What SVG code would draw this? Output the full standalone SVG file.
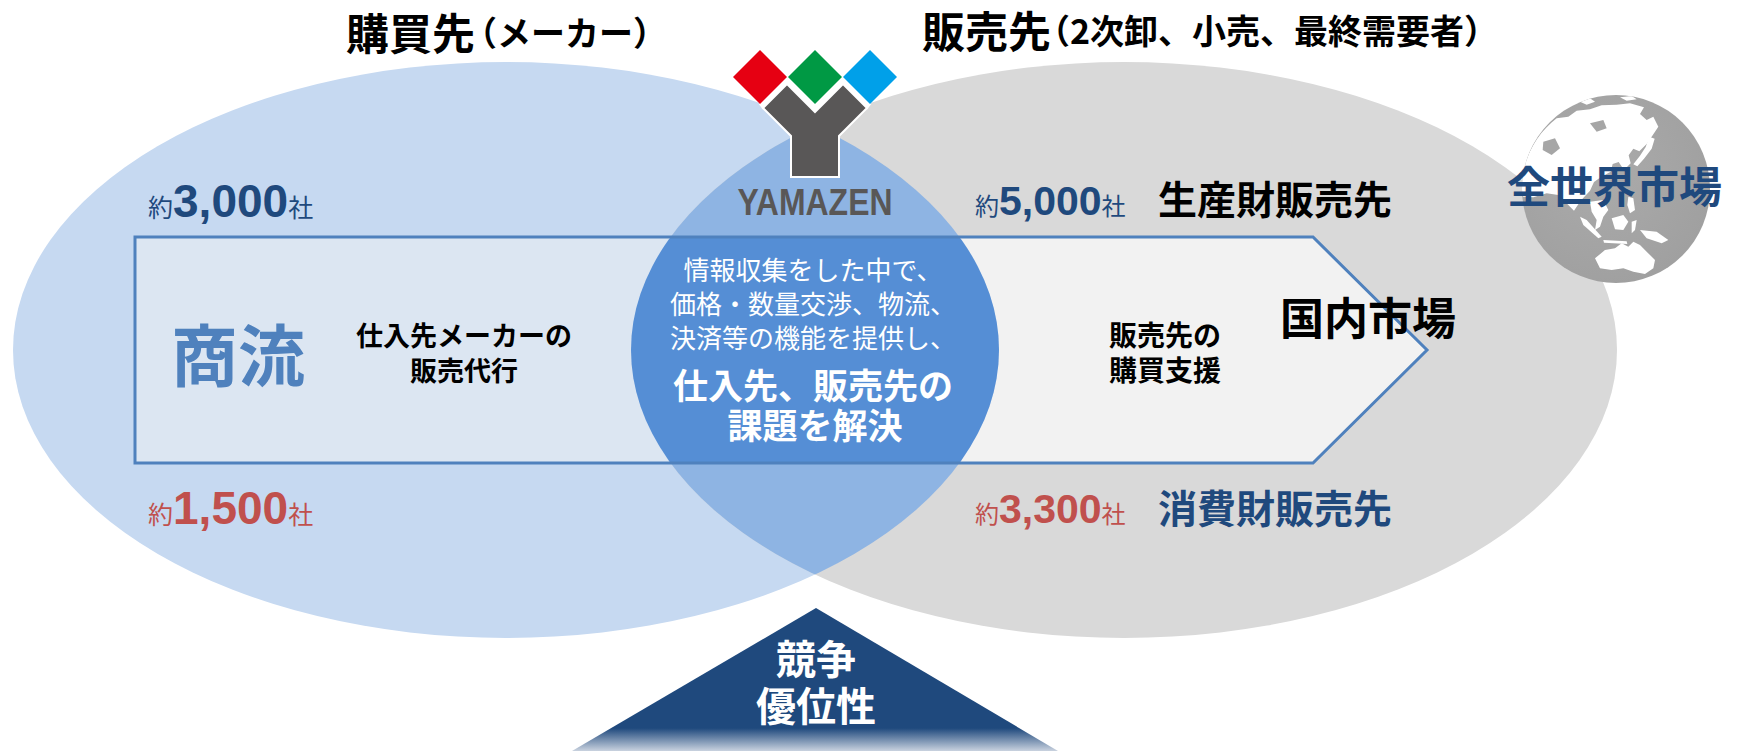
<svg xmlns="http://www.w3.org/2000/svg" width="1738" height="751" viewBox="0 0 1738 751">
  <defs>
    <style>
      .jp { font-family: "Noto Sans CJK JP", "Liberation Sans", sans-serif; }
      .lat { font-family: "Liberation Sans", "Noto Sans CJK JP", sans-serif; font-weight: bold; }
      .b { font-weight: bold; }
      .navy { fill: #1F497D; }
      .red { fill: #C0504D; }
      .ink { fill: #000000; }
      .white { fill: #FFFFFF; }
      .mid { text-anchor: middle; }
      .land { fill: #FFFFFF; }
    </style>
    <clipPath id="clipLeft"><ellipse cx="506" cy="350" rx="493" ry="288"/></clipPath>
    <clipPath id="clipBand"><path d="M135,237H1313L1427,350L1313,463H135Z"/></clipPath>
    <clipPath id="clipGlobe"><circle cx="1616" cy="189" r="94"/></clipPath>
    <linearGradient id="triFade" x1="0" y1="0" x2="0" y2="1">
      <stop offset="0" stop-color="#1F497D"/>
      <stop offset="0.84" stop-color="#1F497D"/>
      <stop offset="1" stop-color="#C9D2DF"/>
    </linearGradient>
    <radialGradient id="globeShade" cx="0.42" cy="0.4" r="0.62">
      <stop offset="0" stop-color="#ABABAB"/>
      <stop offset="1" stop-color="#A0A0A0"/>
    </radialGradient>
  </defs>

  <rect width="1738" height="751" fill="#FFFFFF"/>

  <!-- supplier side -->
  <g id="suppliers">
    <ellipse cx="506" cy="350" rx="493" ry="288" fill="#C6D9F1"/>
  </g>

  <!-- customer side -->
  <g id="customers">
    <ellipse cx="1124" cy="350" rx="493" ry="288" fill="#D9D9D9"/>
  </g>

  <!-- overlap of both sides -->
  <g id="overlap">
    <ellipse cx="1124" cy="350" rx="493" ry="288" fill="#8EB4E3" clip-path="url(#clipLeft)"/>
  </g>

  <!-- commercial flow arrow -->
  <g id="connectors">
    <path d="M135,237H1313L1427,350L1313,463H135Z" fill="#F2F2F2"/>
    <g clip-path="url(#clipBand)">
      <ellipse cx="506" cy="350" rx="493" ry="288" fill="#DCE6F2"/>
      <ellipse cx="1124" cy="350" rx="493" ry="288" fill="#558ED5" clip-path="url(#clipLeft)"/>
    </g>
    <path d="M135,237H1313L1427,350L1313,463H135Z" fill="none" stroke="#4F81BD" stroke-width="3"/>
  </g>

  <!-- headings -->
  <g id="heading-suppliers">
    <text class="jp b ink" x="346" y="50" font-size="43">購買先</text>
    <text class="jp b ink" x="463" y="46" font-size="34">（メーカー）</text>
  </g>
  <g id="heading-customers">
    <text class="jp b ink" x="922" y="48" font-size="43">販売先</text>
    <text class="jp b ink" x="1036" y="44" font-size="34">（2次卸、小売、最終需要者）</text>
  </g>

  <!-- supplier counts -->
  <g id="count-makers-industrial">
    <text x="148" y="217" class="navy"><tspan class="jp" font-size="25">約</tspan><tspan class="lat" font-size="46">3,000</tspan><tspan class="jp" font-size="25">社</tspan></text>
  </g>
  <g id="count-makers-consumer">
    <text x="148" y="524" class="red"><tspan class="jp" font-size="25">約</tspan><tspan class="lat" font-size="46">1,500</tspan><tspan class="jp" font-size="25">社</tspan></text>
  </g>

  <!-- customer counts -->
  <g id="count-industrial">
    <text x="975" y="215" class="navy"><tspan class="jp" font-size="24">約</tspan><tspan class="lat" font-size="41">5,000</tspan><tspan class="jp" font-size="24">社</tspan></text>
    <text class="jp b ink" x="1158" y="214" font-size="39">生産財販売先</text>
  </g>
  <g id="count-consumer">
    <text x="975" y="523" class="red"><tspan class="jp" font-size="24">約</tspan><tspan class="lat" font-size="41">3,300</tspan><tspan class="jp" font-size="24">社</tspan></text>
    <text class="jp b navy" x="1158" y="523" font-size="39">消費財販売先</text>
  </g>

  <!-- flow labels -->
  <g id="label-flow">
    <text class="jp b" x="171" y="381" font-size="67" fill="#4F81BD">商流</text>
  </g>
  <g id="label-sales-agent">
    <text class="jp b ink mid" x="464" y="346" font-size="27">仕入先メーカーの</text>
    <text class="jp b ink mid" x="464" y="381" font-size="27">販売代行</text>
  </g>
  <g id="label-purchase-support">
    <text class="jp b ink mid" x="1165" y="346" font-size="28">販売先の</text>
    <text class="jp b ink mid" x="1165" y="381" font-size="28">購買支援</text>
  </g>
  <g id="label-domestic">
    <text class="jp b ink" x="1280" y="335" font-size="44">国内市場</text>
  </g>

  <!-- core message -->
  <g id="core">
    <text class="jp white mid" x="813" y="280" font-size="26">情報収集をした中で、</text>
    <text class="jp white mid" x="813" y="314" font-size="26">価格・数量交渉、物流、</text>
    <text class="jp white mid" x="813" y="348" font-size="26">決済等の機能を提供し、</text>
    <text class="jp b white mid" x="813" y="399" font-size="35">仕入先、販売先の</text>
    <text class="jp b white mid" x="815" y="439" font-size="35">課題を解決</text>
  </g>

  <!-- company mark -->
  <g id="logo">
    <path d="M760,104L787.5,77L815,104L842.5,77L870,104L867,108L843,84L815,112L787,84L763,108Z" fill="#FFFFFF" stroke="#FFFFFF" stroke-width="2"/>
    <path d="M760,50L787,77L760,104L733,77Z" fill="#E60012"/>
    <path d="M815,50L842,77L815,104L788,77Z" fill="#009944"/>
    <path d="M870,50L897,77L870,104L843,77Z" fill="#00A0E9"/>
    <path d="M763,108L787,84L815,112L843,84L867,108L839,136V177H791V136Z" fill="#595757" stroke="#FFFFFF" stroke-width="2" stroke-linejoin="miter"/>
    <text class="lat mid" x="815" y="215" font-size="37" fill="#595757" textLength="155" lengthAdjust="spacingAndGlyphs">YAMAZEN</text>
  </g>

  <!-- world market -->
  <g id="globe">
    <circle cx="1616" cy="189" r="94" fill="url(#globeShade)"/>
    <g clip-path="url(#clipGlobe)">
      <g transform="translate(1480,70) scale(0.33333)">
        <!-- Eurasia -->
        <path class="land" d="M120,360C125,270 170,190 230,145L265,140L290,122L330,118L365,106L410,104L450,100L492,112L480,132L500,150L520,140L535,170L518,196L500,222L478,244L460,236L446,256L452,280L432,300L416,276L398,282L392,305L362,322L342,336L330,362L302,392L282,422L262,402L240,376L200,370L160,382L130,380Z"/>
        <path d="M190,215L225,205L240,235L215,255L188,240Z" fill="#A6A6A6"/>
        <path d="M330,160L370,150L380,175L350,185Z" fill="#A6A6A6"/>
        <!-- Japan -->
        <path class="land" d="M508,200L524,206L515,236L492,266L472,289L460,283L480,257L497,231Z"/>
        <!-- South-east Asia and islands -->
        <path class="land" d="M330,395L370,390L385,420L370,440L360,470L345,480L350,450L335,425Z"/>
        <path class="land" d="M300,440L320,450L365,500L355,505L310,465Z"/>
        <path class="land" d="M395,445L430,435L445,455L430,480L405,478Z"/>
        <path class="land" d="M370,510L440,514L442,522L372,518Z"/>
        <path class="land" d="M455,455L470,450L465,480L455,490Z"/>
        <path class="land" d="M480,480L530,485L565,510L545,520L500,505Z"/>
        <path class="land" d="M445,380L460,385L465,420L450,430L442,405Z"/>
        <!-- Australia -->
        <path class="land" d="M345,565L375,540L405,535L425,520L445,530L460,515L480,525L500,545L525,570L520,595L495,612L460,605L430,595L395,600L360,595Z"/>
        <!-- Arctic islands -->
        <path class="land" d="M300,95L330,85L345,95L320,104Z"/>
        <path class="land" d="M420,82L455,78L470,88L440,92Z"/>
      </g>
    </g>
    <text class="jp b navy" x="1507" y="203" font-size="43">全世界市場</text>
  </g>

  <!-- competitive advantage -->
  <g id="advantage">
    <path d="M816,608L1058,751H572Z" fill="url(#triFade)"/>
    <text class="jp b white mid" x="816" y="674" font-size="40">競争</text>
    <text class="jp b white mid" x="816" y="721" font-size="40">優位性</text>
  </g>
</svg>
